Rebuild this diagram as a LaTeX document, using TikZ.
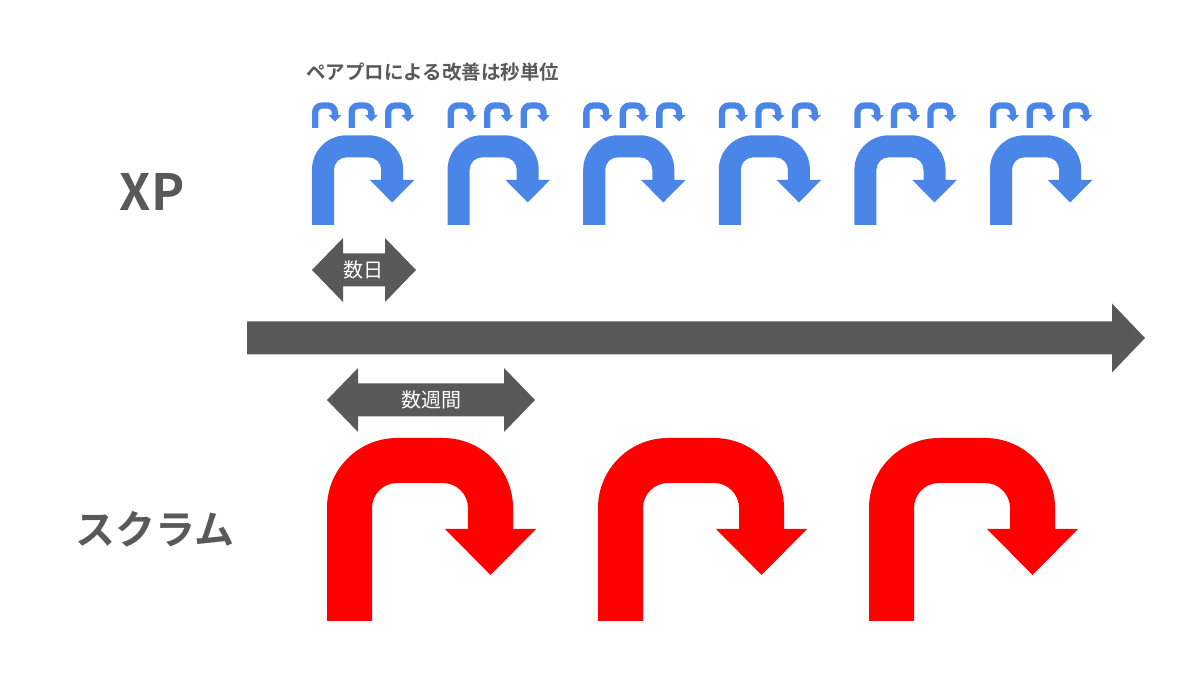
\documentclass[tikz,border=0pt]{standalone}
\usepackage{fontspec}
\setmainfont{Noto Sans CJK JP}[BoldFont={Noto Sans CJK JP Bold}]
\definecolor{xpblue}{HTML}{4A86E8}
\definecolor{scrumred}{HTML}{FF0000}
\definecolor{slategray}{HTML}{595959}
\tikzset{
  uturn/.pic={
    \fill (0,0) -- (0,113) arc[start angle=180,end angle=90,radius=70] -- (116,183)
      arc[start angle=90,end angle=0,radius=70] -- (186,92) -- (209,92) -- (163.5,46)
      -- (118,92) -- (141,92) -- (141,113) arc[start angle=0,end angle=90,radius=25]
      -- (70,138) arc[start angle=90,end angle=180,radius=25] -- (45,0) -- cycle;
  },
  xpbig/.style={fill=xpblue,scale=0.49},
  xpsmall/.style={fill=xpblue,scale=0.14},
  scrumturn/.style={fill=scrumred},
  label/.style={text=slategray,font=\bfseries},
  span/.style={text=white,font=\fontsize{20}{24}\selectfont},
}
\begin{document}
\begin{tikzpicture}[x=1pt,y=1pt]
  \useasboundingbox[fill=white] (0,0) rectangle (1200,675);
  \foreach \i in {0,...,5} {
    \pic[xpbig] at ({312+135.6*\i},450) {uturn};
    \foreach \j in {0,36.5,73}
      \pic[xpsmall] at ({312+135.6*\i+\j},547) {uturn};
  }
  \foreach \i in {0,1,2}
    \pic[scrumturn] at ({327+271*\i},54) {uturn};
  \fill[slategray] (247,320.5) -- (1112,320.5) -- (1112,302.5) -- (1145,337)
    -- (1112,371.5) -- (1112,353.5) -- (247,353.5) -- cycle;
  \fill[slategray] (312,405) -- (343,437) -- (343,421.5) -- (385,421.5) -- (385,437)
    -- (416,405) -- (385,373) -- (385,388.5) -- (343,388.5) -- (343,373) -- cycle;
  \fill[slategray] (327,275) -- (358,307) -- (358,291.5) -- (504,291.5) -- (504,307)
    -- (535,275) -- (504,243) -- (504,258.5) -- (358,258.5) -- (358,243) -- cycle;
  \node[span] (days) at (363,405) {数日};
  \node[span] (weeks) at (431,275) {数週間};
  \node[label,font=\bfseries\fontsize{50}{60}\selectfont] (xp) at (152,483) {XP};
  \node[label,font=\bfseries\fontsize{40}{48}\selectfont] (scrum) at (155,146) {スクラム};
  \node[label,font=\bfseries\fontsize{19.5}{24}\selectfont,anchor=west,inner sep=0pt]
    (pairnote) at (306,603) {ペアプロによる改善は秒単位};
\end{tikzpicture}
\end{document}
